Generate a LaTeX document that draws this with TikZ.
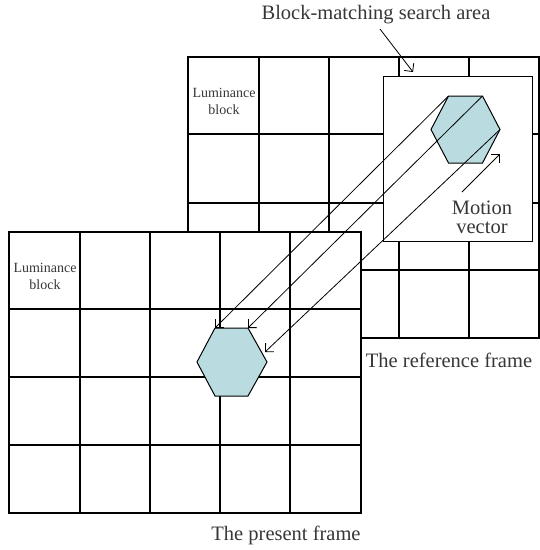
\documentclass[tikz,border=0pt]{standalone}
\usepackage{fontspec}
\setmainfont{Liberation Serif}
\usetikzlibrary{arrows.meta}
\definecolor{hexfill}{RGB}{186,220,224}
\definecolor{txt}{RGB}{55,55,55}
\tikzset{
  gridline/.style={draw=black, line width=1.1pt},
  boxline/.style={draw=black, line width=1pt, fill=white},
  hexshape/.style={draw=black, line width=1pt, fill=hexfill},
  mvarrow/.style={draw=black, line width=0.8pt, -{Straight Barb[length=6,width=12,line width=0.8pt]}},
  biglabel/.style={text=txt, font=\fontsize{20.5}{19}\selectfont, inner sep=0pt, align=center},
  smalllabel/.style={text=txt, font=\fontsize{14}{17}\selectfont, inner sep=0pt, align=center}
}
\begin{document}
\begin{tikzpicture}[x=1pt,y=-1pt]
\useasboundingbox (0,0) rectangle (540,550);
% reference frame (back)
\draw[gridline] (188,57) rectangle (539,338);
\foreach \xx in {259,329,399,469} \draw[gridline] (\xx,57) -- (\xx,338);
\foreach \yy in {134,203,270} \draw[gridline] (188,\yy) -- (539,\yy);
\node[smalllabel] (lumback) at (224,101) {Luminance\\block};
% search area
\draw[boxline] (383,76) rectangle (532,241);
\coordinate (searchtop) at (413,72);
% back hexagon
\coordinate (b1) at (448.5,96);
\coordinate (b2) at (482.5,96);
\coordinate (b3) at (500,129.5);
\coordinate (b4) at (482.5,163);
\coordinate (b5) at (448.5,163);
\coordinate (b6) at (431,129.5);
\draw[hexshape] (b1) -- (b2) -- (b3) -- (b4) -- (b5) -- (b6) -- cycle;
% present frame (front)
\fill[white] (9,232) rectangle (361,513);
\draw[gridline] (9,232) rectangle (361,513);
\foreach \xx in {80,150,220,290} \draw[gridline] (\xx,232) -- (\xx,513);
\foreach \yy in {309,377,445} \draw[gridline] (9,\yy) -- (361,\yy);
\node[smalllabel] (lumfront) at (45,276) {Luminance\\block};
% front hexagon
\coordinate (f1) at (215,328);
\coordinate (f2) at (248,328);
\coordinate (f3) at (267,362);
\coordinate (f4) at (248,396);
\coordinate (f5) at (215,396);
\coordinate (f6) at (197,362);
\draw[hexshape] (f1) -- (f2) -- (f3) -- (f4) -- (f5) -- (f6) -- cycle;
\coordinate (t3) at (265,352);
% matching arrows
\draw[mvarrow] (b1) -- (f1);
\draw[mvarrow] (b2) -- (f2);
\draw[mvarrow] (b3) -- (t3);
% motion vector
\coordinate (mvstart) at (462,192);
\coordinate (mvend) at (500,154);
\draw[mvarrow] (mvstart) -- (mvend);
\node[biglabel] (mvlabel) at (482,217) {Motion\\vector};
% labels
\node[biglabel, anchor=base] (searchlabel) at (376,19) {Block-matching search area};
\coordinate (searchlabelfoot) at (380,29);
\draw[mvarrow] (searchlabelfoot) -- (searchtop);
\node[biglabel, anchor=base] (reflabel) at (449,367) {The reference frame};
\node[biglabel, anchor=base] (preslabel) at (286,540) {The present frame};
\end{tikzpicture}
\end{document}
